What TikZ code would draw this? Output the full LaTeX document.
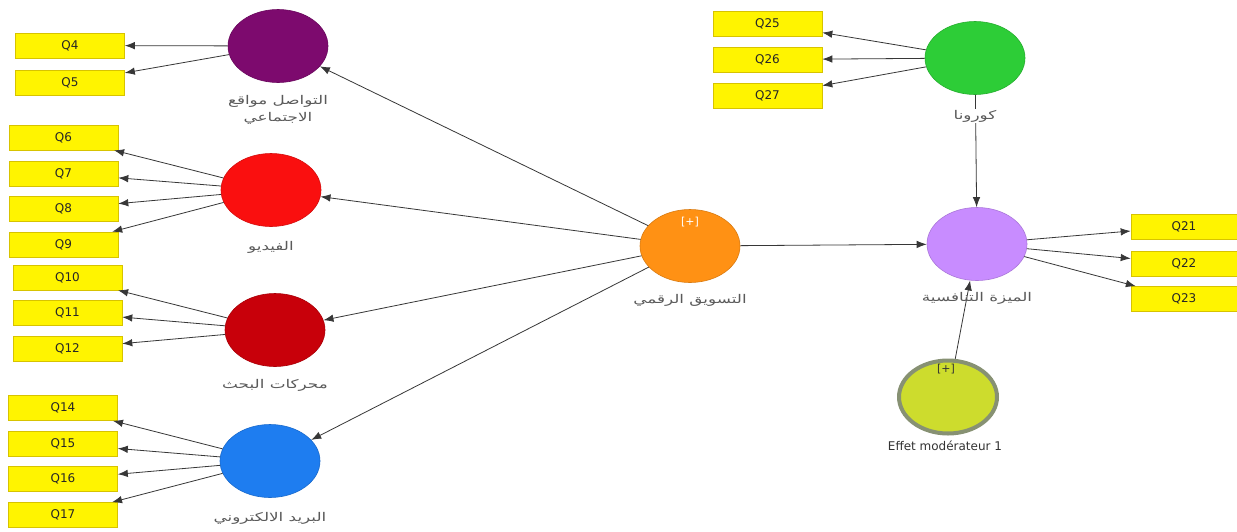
\documentclass[tikz,border=0pt]{standalone}
\usepackage{fontspec}
\setmainfont{DejaVu Sans}
\newfontfamily\arabicfont[Script=Arabic]{DejaVu Sans}
\TeXXeTstate=1
\usetikzlibrary{shapes.geometric,arrows.meta}
\definecolor{cPurple}{RGB}{125,10,110}
\definecolor{cRed}{RGB}{250,15,15}
\definecolor{cDark}{RGB}{200,0,10}
\definecolor{cBlue}{RGB}{30,125,240}
\definecolor{cOrange}{RGB}{255,145,20}
\definecolor{cGreen}{RGB}{45,205,55}
\definecolor{cLilac}{RGB}{200,140,255}
\definecolor{cMod}{RGB}{205,220,45}
\definecolor{cModRim}{RGB}{135,145,115}
\definecolor{cBox}{RGB}{255,244,0}
\definecolor{cBoxRim}{RGB}{215,195,0}
\definecolor{cLine}{RGB}{55,55,55}
\definecolor{cText}{RGB}{90,90,90}
\tikzset{
  latent/.style={ellipse, minimum width=100pt, minimum height=73pt, inner sep=0pt, draw=#1!85!black, line width=0.6pt, fill=#1},
  indicator/.style={rectangle, minimum width=109pt, minimum height=25pt, inner sep=0pt, fill=cBox, draw=cBoxRim, line width=0.6pt, font=\fontsize{12}{13}\selectfont, text=black!85},
  lbl/.style={font=\fontsize{12}{17}\selectfont\arabicfont, text=cText, align=center, inner sep=1pt},
  link/.style={draw=cLine, line width=0.8pt, -{Latex[length=10pt,width=7.5pt]}}
}
% right-to-left run, widened to the proportions of the construct names
\newcommand{\ar}[1]{\scalebox{1.4}[1]{\beginR #1\endR}}
\begin{document}
\begin{tikzpicture}[x=1pt,y=-1pt]
\useasboundingbox[fill=white] (0,0) rectangle (1237,531);

% constructs
\node[latent=cPurple] (sm) at (278,46) {};
\node[latent=cRed] (vid) at (271,190) {};
\node[latent=cDark] (se) at (275,330) {};
\node[latent=cBlue] (em) at (270,461) {};
\node[latent=cOrange] (dm) at (690,246) {};
\node[latent=cGreen] (cov) at (975,58) {};
\node[latent=cLilac] (ca) at (977,244) {};
\node[ellipse, minimum width=98pt, minimum height=73pt, inner sep=0pt, fill=cMod, draw=cModRim, line width=4pt] (mod) at (948,397) {};

\node[font=\fontsize{11}{12}\selectfont, text=white] (dmp) at (690,222) {[+]};
\node[font=\fontsize{11}{12}\selectfont, text=black!80] (modp) at (946,369) {[+]};

% indicators
\node[indicator] (q4) at (70,45.5) {Q4};
\node[indicator] (q5) at (70,82.5) {Q5};
\node[indicator] (q6) at (63.5,137.5) {Q6};
\node[indicator] (q7) at (63.5,173.5) {Q7};
\node[indicator] (q8) at (63.5,208.5) {Q8};
\node[indicator] (q9) at (63.5,244.5) {Q9};
\node[indicator] (q10) at (67.5,277.5) {Q10};
\node[indicator] (q11) at (67.5,312.5) {Q11};
\node[indicator] (q12) at (67.5,348.5) {Q12};
\node[indicator] (q14) at (63,408) {Q14};
\node[indicator] (q15) at (63,444) {Q15};
\node[indicator] (q16) at (63,479) {Q16};
\node[indicator] (q17) at (63,515) {Q17};
\node[indicator] (q25) at (767.5,23.5) {Q25};
\node[indicator] (q26) at (767.5,59.5) {Q26};
\node[indicator] (q27) at (767.5,95.5) {Q27};
\node[indicator, minimum width=106pt] (q21) at (1184,226.5) {Q21};
\node[indicator, minimum width=106pt] (q22) at (1184,263.5) {Q22};
\node[indicator, minimum width=106pt] (q23) at (1184,299) {Q23};

% structural paths
\draw[link] (dm) -- (sm);
\draw[link] (dm) -- (vid);
\draw[link] (dm) -- (se);
\draw[link] (dm) -- (em);
\draw[link] (dm) -- (ca);
\draw[link] (cov) -- (ca);
\draw[link] (mod) -- (ca);

% measurement paths
\foreach \q in {q4,q5} \draw[link] (sm) -- (\q);
\foreach \q in {q6,q7,q8,q9} \draw[link] (vid) -- (\q);
\foreach \q in {q10,q11,q12} \draw[link] (se) -- (\q);
\foreach \q in {q14,q15,q16,q17} \draw[link] (em) -- (\q);
\foreach \q in {q25,q26,q27} \draw[link] (cov) -- (\q);
\foreach \q in {q21,q22,q23} \draw[link] (ca) -- (\q);

% construct names
\node[lbl] (lsm) at (278,110) {\ar{التواصل مواقع}\\\ar{الاجتماعي}};
\node[lbl] (lvid) at (271,247) {\ar{الفيديو}};
\node[lbl] (lse) at (275,385) {\ar{محركات البحث}};
\node[lbl] (lem) at (270,518) {\ar{البريد الالكتروني}};
\node[lbl] (ldm) at (690,300) {\ar{التسويق الرقمي}};
\node[lbl, fill=white] (lcov) at (975,116) {\ar{كورونا}};
\node[lbl] (lca) at (977,298) {\ar{الميزة التنافسية}};
\node[font=\fontsize{12}{14}\selectfont, text=black!80] (lmod) at (945,446) {Effet modérateur 1};
\end{tikzpicture}
\end{document}
